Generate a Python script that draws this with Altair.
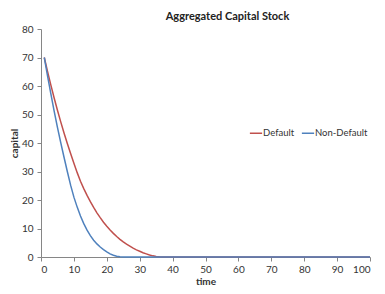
import altair as alt
import pandas as pd

# Aggregated capital stock over time
time_default = [1, 2, 3, 4, 5, 6, 7, 8, 9, 10, 11, 12, 13, 14, 15, 16, 17, 18, 19, 20,
                21, 22, 23, 24, 25, 26, 27, 28, 29, 30, 31, 32, 33, 34, 35, 36, 37, 100]
capital_default = [70, 65, 60.3, 55.8, 51.5, 47.4, 43.5, 39.8, 36.3, 32.9, 29.6, 26.6,
                   24.0, 21.6, 19.4, 17.4, 15.5, 13.8, 12.2, 10.8, 9.5, 8.3, 7.2, 6.2,
                   5.3, 4.5, 3.8, 3.1, 2.5, 2.0, 1.5, 1.1, 0.7, 0.4, 0.2, 0.05, 0, 0]

time_nondefault = [1, 2, 3, 4, 5, 6, 7, 8, 9, 10, 11, 12, 13, 14, 15, 16, 17, 18, 19, 20,
                   21, 22, 23, 24, 25, 100]
capital_nondefault = [70, 63.5, 57.2, 51.2, 45.5, 40.1, 35.0, 30.0, 25.2, 21.0, 17.5,
                      14.4, 11.7, 9.4, 7.5, 5.9, 4.6, 3.5, 2.6, 1.8, 1.1, 0.6, 0.3, 0.1,
                      0, 0]

series = ["Default", "Non-Default"]
colors = ["#C0504D", "#4F81BD"]

df = pd.concat([
    pd.DataFrame({"time": time_default, "capital": capital_default, "series": series[0]}),
    pd.DataFrame({"time": time_nondefault, "capital": capital_nondefault, "series": series[1]}),
])

font = "Lato"

chart = alt.Chart(df).mark_line(strokeWidth=1.5).encode(
    x=alt.X("time:Q",
            scale=alt.Scale(domain=[0, 100], nice=False, zero=False),
            axis=alt.Axis(title="time", values=list(range(0, 101, 10)), grid=False,
                          tickSize=4, labelPadding=3, titlePadding=2,
                          domainColor="#868686", tickColor="#868686",
                          labelColor="#333333", titleColor="#333333",
                          labelFont=font, titleFont=font, labelFontSize=10,
                          titleFontSize=10, titleFontWeight="bold")),
    y=alt.Y("capital:Q",
            scale=alt.Scale(domain=[0, 80], nice=False),
            axis=alt.Axis(title="capital", values=list(range(0, 81, 10)), grid=False,
                          tickSize=4, labelPadding=4, titlePadding=2,
                          domainColor="#868686", tickColor="#868686",
                          labelColor="#333333", titleColor="#333333",
                          labelFont=font, titleFont=font, labelFontSize=10,
                          titleFontSize=10, titleFontWeight="bold")),
    color=alt.Color("series:N",
                    scale=alt.Scale(domain=series, range=colors),
                    legend=alt.Legend(title=None, orient="none", direction="horizontal",
                                      legendX=208, legendY=97, symbolType="stroke",
                                      symbolSize=150, symbolStrokeWidth=1.5,
                                      labelFont=font, labelFontSize=9.5,
                                      labelColor="#333333", labelOffset=0,
                                      labelLimit=300, columnPadding=3,
                                      padding=0)),
).properties(
    width=329,
    height=228,
    title=alt.TitleParams("Aggregated Capital Stock", font=font, fontSize=11,
                          fontWeight="bold", color="#222222", anchor="middle",
                          dx=22, offset=2),
    autosize=alt.AutoSizeParams(type="none"),
    padding={"left": 33, "top": 21, "right": 7, "bottom": 29},
).configure_view(stroke=None)

chart.save("out.html", embed_options={"renderer": "svg", "actions": False})
